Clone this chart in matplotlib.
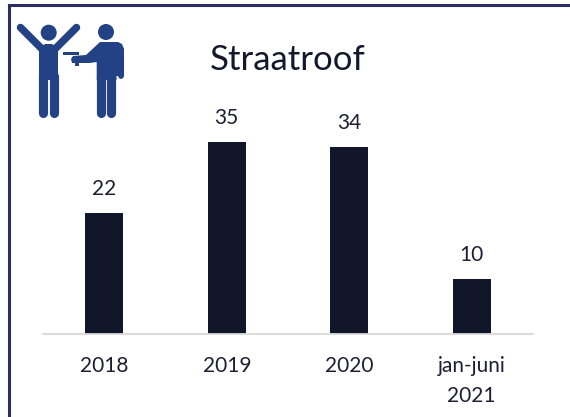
import matplotlib
matplotlib.use('Agg')
import matplotlib.pyplot as plt
from matplotlib.patches import Circle, Polygon
from matplotlib.lines import Line2D

categories = ['2018', '2019', '2020', 'jan-juni\n2021']
values = [22, 35, 34, 10]
title = 'Straatroof'

W, H = 570, 417
BAR = '#12162b'
TEXT = '#1d2033'
FRAME = '#2b2d62'
ICON = '#234285'
plt.rcParams['font.family'] = ['Lato', 'DejaVu Sans']

fig = plt.figure(figsize=(W / 100, H / 100), dpi=100, facecolor='white')

# overlay in pixel coords for the frame and the icon
bg = fig.add_axes([0, 0, 1, 1])
bg.set_xlim(0, W)
bg.set_ylim(H, 0)
bg.axis('off')
bg.add_line(Line2D([8.5, 8.5, W], [H, 5, 5], color=FRAME, lw=2.2, solid_joinstyle='miter'))


def stroke(xs, ys, lw):
    bg.add_line(Line2D(xs, ys, color=ICON, lw=lw, solid_capstyle='round', solid_joinstyle='round'))


def shape(pts):
    bg.add_patch(Polygon(pts, color=ICON, lw=0))


# person with raised arms
bg.add_patch(Circle((48.7, 32.7), 8, color=ICON, lw=0))
stroke([20.5, 43], [27.5, 50], 5.4)
stroke([76.5, 54], [27.5, 50], 5.4)
shape([[39, 48], [45, 44], [52, 44], [58, 48], [58, 80], [39, 80]])
stroke([43.2, 43.2], [76, 112.5], 6.6)
stroke([53.8, 53.8], [76, 112.5], 6.6)

# person with gun
bg.add_patch(Circle((106, 32), 8, color=ICON, lw=0))
shape([[100, 42], [118, 42], [122, 44], [124, 49], [124, 76], [116.5, 76], [116.5, 80], [96.7, 80],
       [96.7, 62], [90, 63], [72, 63], [71, 59], [73, 56], [86, 55]])
stroke([121, 121], [50, 75.5], 4.2)
stroke([101.3, 101.3], [76, 112.5], 6.6)
stroke([111.4, 111.4], [76, 112.5], 6.6)
shape([[63, 51.5], [79, 51.5], [79, 54.5], [63, 54.5]])
shape([[75, 63], [79, 63], [79, 66], [75, 66]])

ax = fig.add_axes([43 / W, 1 - 334 / H, 490 / W, 220 / H])
ax.patch.set_alpha(0)
pos = range(len(categories))
bars = ax.bar(pos, values, width=0.31, color=BAR)
ax.set_xlim(-0.5, 3.5)
ax.set_ylim(0, 40)
ax.set_xticks(list(pos))
ax.set_xticklabels(categories, fontsize=15, color=TEXT, linespacing=1.6, va='top')
ax.tick_params(axis='x', length=0, pad=16)
ax.set_yticks([])
for s in ['top', 'left', 'right']:
    ax.spines[s].set_visible(False)
ax.spines['bottom'].set_color('#d9d9d9')
ax.spines['bottom'].set_linewidth(1.3)
ax.bar_label(bars, padding=10, fontsize=15, color=TEXT)

fig.text(288 / W, 1 - 60 / H, title, fontsize=25, color='#14182c', ha='center', va='center')

fig.savefig('out.png', dpi=100)
